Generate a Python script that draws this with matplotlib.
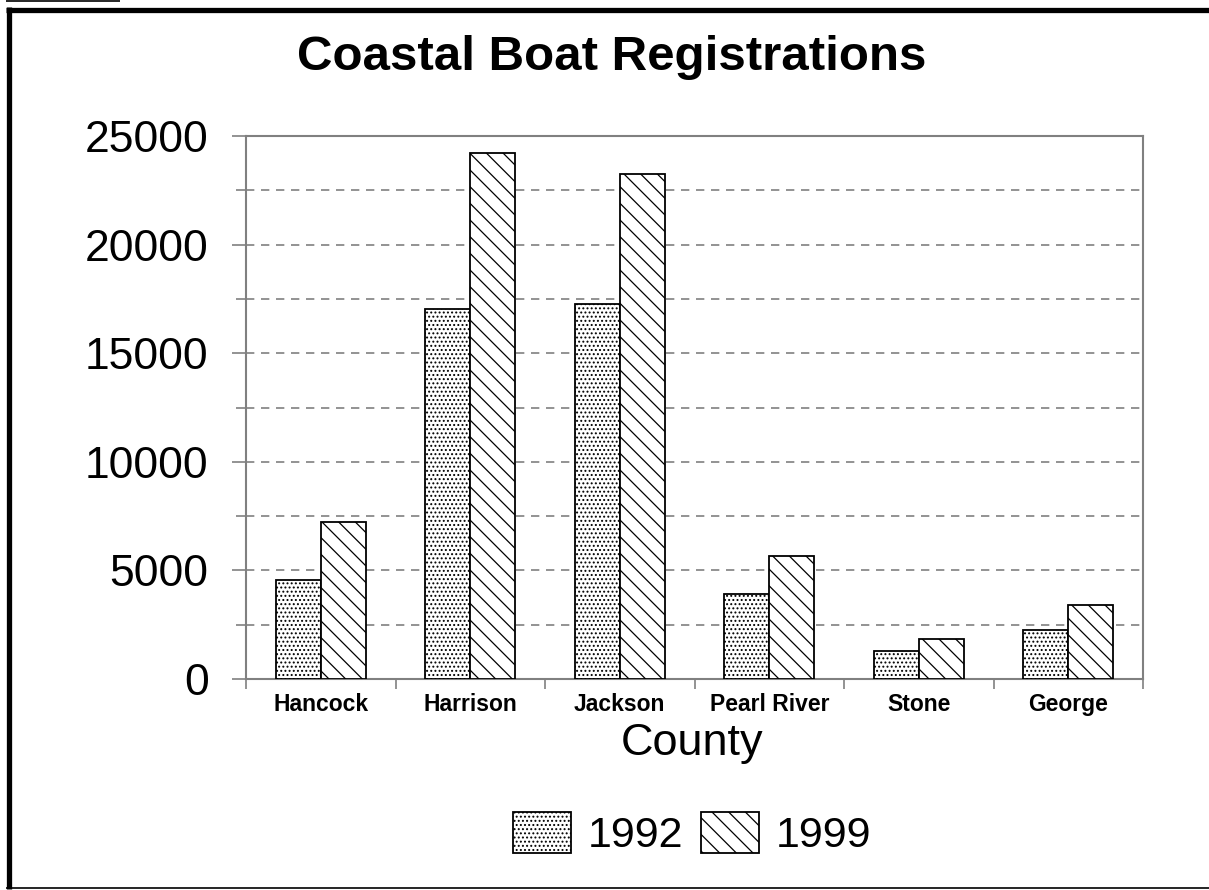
import numpy as np
import matplotlib
matplotlib.use("Agg")
from matplotlib import pyplot as plt
from matplotlib.lines import Line2D
from matplotlib.ticker import MultipleLocator, FixedLocator

# 郡ごとのボート登録数
counties = ["Hancock", "Harrison", "Jackson", "Pearl River", "Stone", "George"]
reg_1992 = [4550, 17050, 17250, 3900, 1300, 2250]
reg_1999 = [7250, 24200, 23250, 5650, 1850, 3400]
years = ["1992", "1999"]

plt.rcParams["font.family"] = ["Liberation Sans", "DejaVu Sans"]
plt.rcParams["hatch.linewidth"] = 0.9
plt.rcParams["hatch.color"] = "black"

W, H = 1209, 890
fig = plt.figure(figsize=(W / 100, H / 100), dpi=100)
ax = fig.add_axes([246 / W, 1 - 679 / H, 897 / W, 543 / H])

gray = "#808080"
x = np.arange(len(counties))
bw = 0.3
b1 = ax.bar(x - bw / 2, reg_1992, bw, color="white", edgecolor="black",
            linewidth=1.3, hatch="....", zorder=3)
b2 = ax.bar(x + bw / 2, reg_1999, bw, color="white", edgecolor="black",
            linewidth=1.3, hatch="\\\\", zorder=3)

ax.set_xlim(-0.5, len(counties) - 0.5)
ax.set_ylim(0, 25000)

# 目盛り
ax.yaxis.set_major_locator(MultipleLocator(5000))
ax.yaxis.set_minor_locator(MultipleLocator(2500))
ax.tick_params(axis="y", which="major", length=10, width=1.2, color=gray,
               pad=17, labelsize=32)
ax.tick_params(axis="y", which="minor", length=7, width=1.2, color=gray)
ax.set_xticks(x)
ax.set_xticklabels(counties, fontsize=16.5, fontweight="bold")
ax.xaxis.set_minor_locator(FixedLocator(np.arange(-0.5, len(counties), 1.0)))
ax.tick_params(axis="x", which="major", length=0, pad=10)
ax.tick_params(axis="x", which="minor", length=7, width=1.2, color=gray)

ax.grid(axis="y", which="both", color=gray, linestyle=(0, (5, 4)),
        linewidth=1.2, zorder=0)
for s in ax.spines.values():
    s.set_color(gray)
    s.set_linewidth(1.5)

fig.text(612 / W, 1 - 70 / H, "Coastal Boat Registrations", ha="center",
         va="baseline", fontsize=35.5, fontweight="bold")
fig.text(692 / W, 1 - 755 / H, "County", ha="center", va="baseline",
         fontsize=32.5)

ax.legend([b1, b2], years, loc="center", bbox_to_anchor=(692 / W, 1 - 834 / H),
          bbox_transform=fig.transFigure, ncol=2, frameon=False, fontsize=31,
          handlelength=1.35, handleheight=1.1, handletextpad=0.4,
          columnspacing=0.4)

# 外枠
def px_line(xs, ys, lw):
    fig.add_artist(Line2D([v / W for v in xs], [1 - v / H for v in ys],
                          transform=fig.transFigure, color="black",
                          linewidth=lw, solid_capstyle="butt"))

px_line([8.5, 8.5], [7, 889], 3.8)
px_line([6, W], [9.5, 9.5], 3.8)
px_line([6, W], [888, 888], 1.2)
px_line([6, 120], [0.5, 0.5], 1.2)

fig.savefig("out.png", dpi=100)
